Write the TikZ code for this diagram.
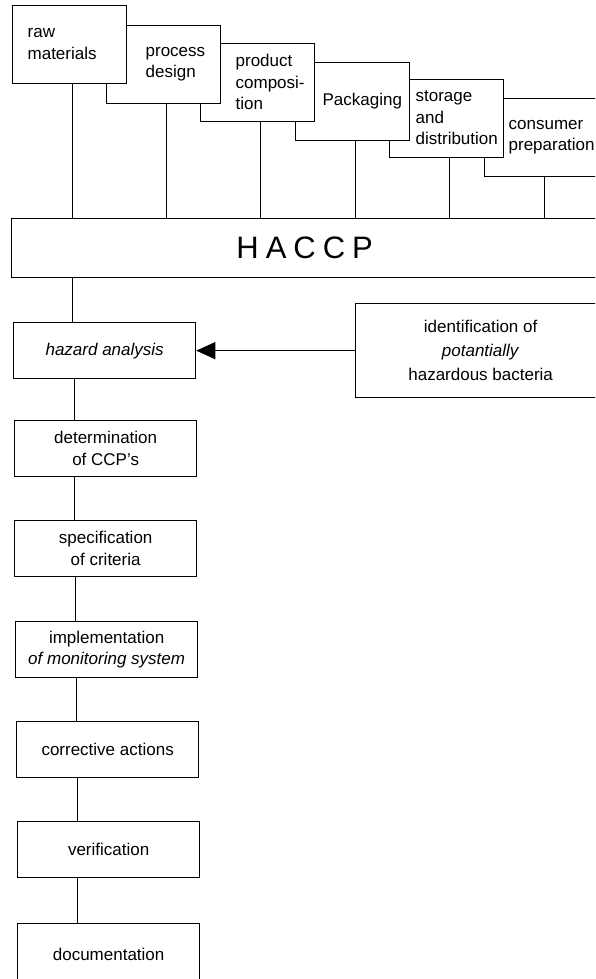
\documentclass[tikz,border=0pt]{standalone}
\usepackage{fontspec}
\setmainfont{Liberation Sans}
\usetikzlibrary{arrows.meta}

\begin{document}
\begin{tikzpicture}[x=1pt, y=-1pt, line width=1.3pt,
  topbox/.style={draw, fill=white, minimum width=114pt, minimum height=78pt, inner sep=0pt, anchor=north west},
  toptxt/.style={anchor=west, align=left, inner sep=0pt, font=\fontsize{17}{21.5}\selectfont},
  stepbox/.style={draw, fill=white, minimum width=182pt, minimum height=56pt, inner sep=0pt, anchor=north west, align=center, font=\fontsize{17}{21.5}\selectfont},
  link/.style={line width=1pt}]

\useasboundingbox (0,0) rectangle (595,979);
\clip (0,0) rectangle (595,979);

% Chain stages, back to front
\node[topbox] (consumer) at (484,98) {};
\node[topbox] (storage) at (389,79) {};
\node[topbox] (packaging) at (295,62) {};
\node[topbox] (product) at (200,43) {};
\node[topbox] (process) at (106,25) {};
\node[topbox] (raw) at (12,5) {};

\node[toptxt] (rawtxt) at (27,44) {raw\\materials};
\node[toptxt] (processtxt) at (145,64) {process\\design};
\node[toptxt] (producttxt) at (235,82) {product\\composi-\\tion};
\node[toptxt] (packagingtxt) at (322,101) {Packaging};
\node[toptxt] (storagetxt) at (415,118) {storage\\and\\distribution};
\node[toptxt] (consumertxt) at (508,137) {consumer\\preparation};

% HACCP bar
\node[draw, minimum width=586pt, minimum height=59pt, inner sep=0pt, anchor=north west,
  font=\fontsize{31}{31}\selectfont] (haccp) at (11,218)
  {H\kern7pt A\kern7pt C\kern7pt C\kern7pt P};

\foreach \s in {raw,process,product,packaging,storage,consumer}
  \draw[link] ([xshift=60pt]\s.south west) -- ([xshift=60pt]\s.south west |- haccp.north);

% HACCP steps
\node[stepbox] (hazard) at (13,322) {\itshape hazard analysis};
\node[stepbox] (ccp) at (14,420) {determination\\of CCP's};
\node[stepbox] (criteria) at (14,520) {specification\\of criteria};
\node[stepbox] (monitor) at (15,621) {implementation\\\textit{of monitoring system}};
\node[stepbox] (corrective) at (16,721) {corrective actions};
\node[stepbox] (verify) at (17,821) {verification};
\node[stepbox, minimum height=62pt] (docu) at (17,923) {documentation};

\draw[link] ([xshift=59pt]hazard.north west) -- ([xshift=59pt]hazard.north west |- haccp.south);
\foreach \a/\b in {hazard/ccp, ccp/criteria, criteria/monitor, monitor/corrective, corrective/verify, verify/docu}
  \draw[link] ([xshift=60pt]\b.north west) -- ([xshift=60pt]\b.north west |- \a.south);

% Bacteria input
\node[stepbox, minimum width=250pt, minimum height=94pt, font=\fontsize{17}{24}\selectfont] (ident) at (355,303)
  {identification of\\\textit{potantially}\\hazardous bacteria};
\draw[line width=1.6pt, -{Triangle[length=19pt,width=17pt]}] (ident.west) -- (hazard.east);

\end{tikzpicture}
\end{document}
